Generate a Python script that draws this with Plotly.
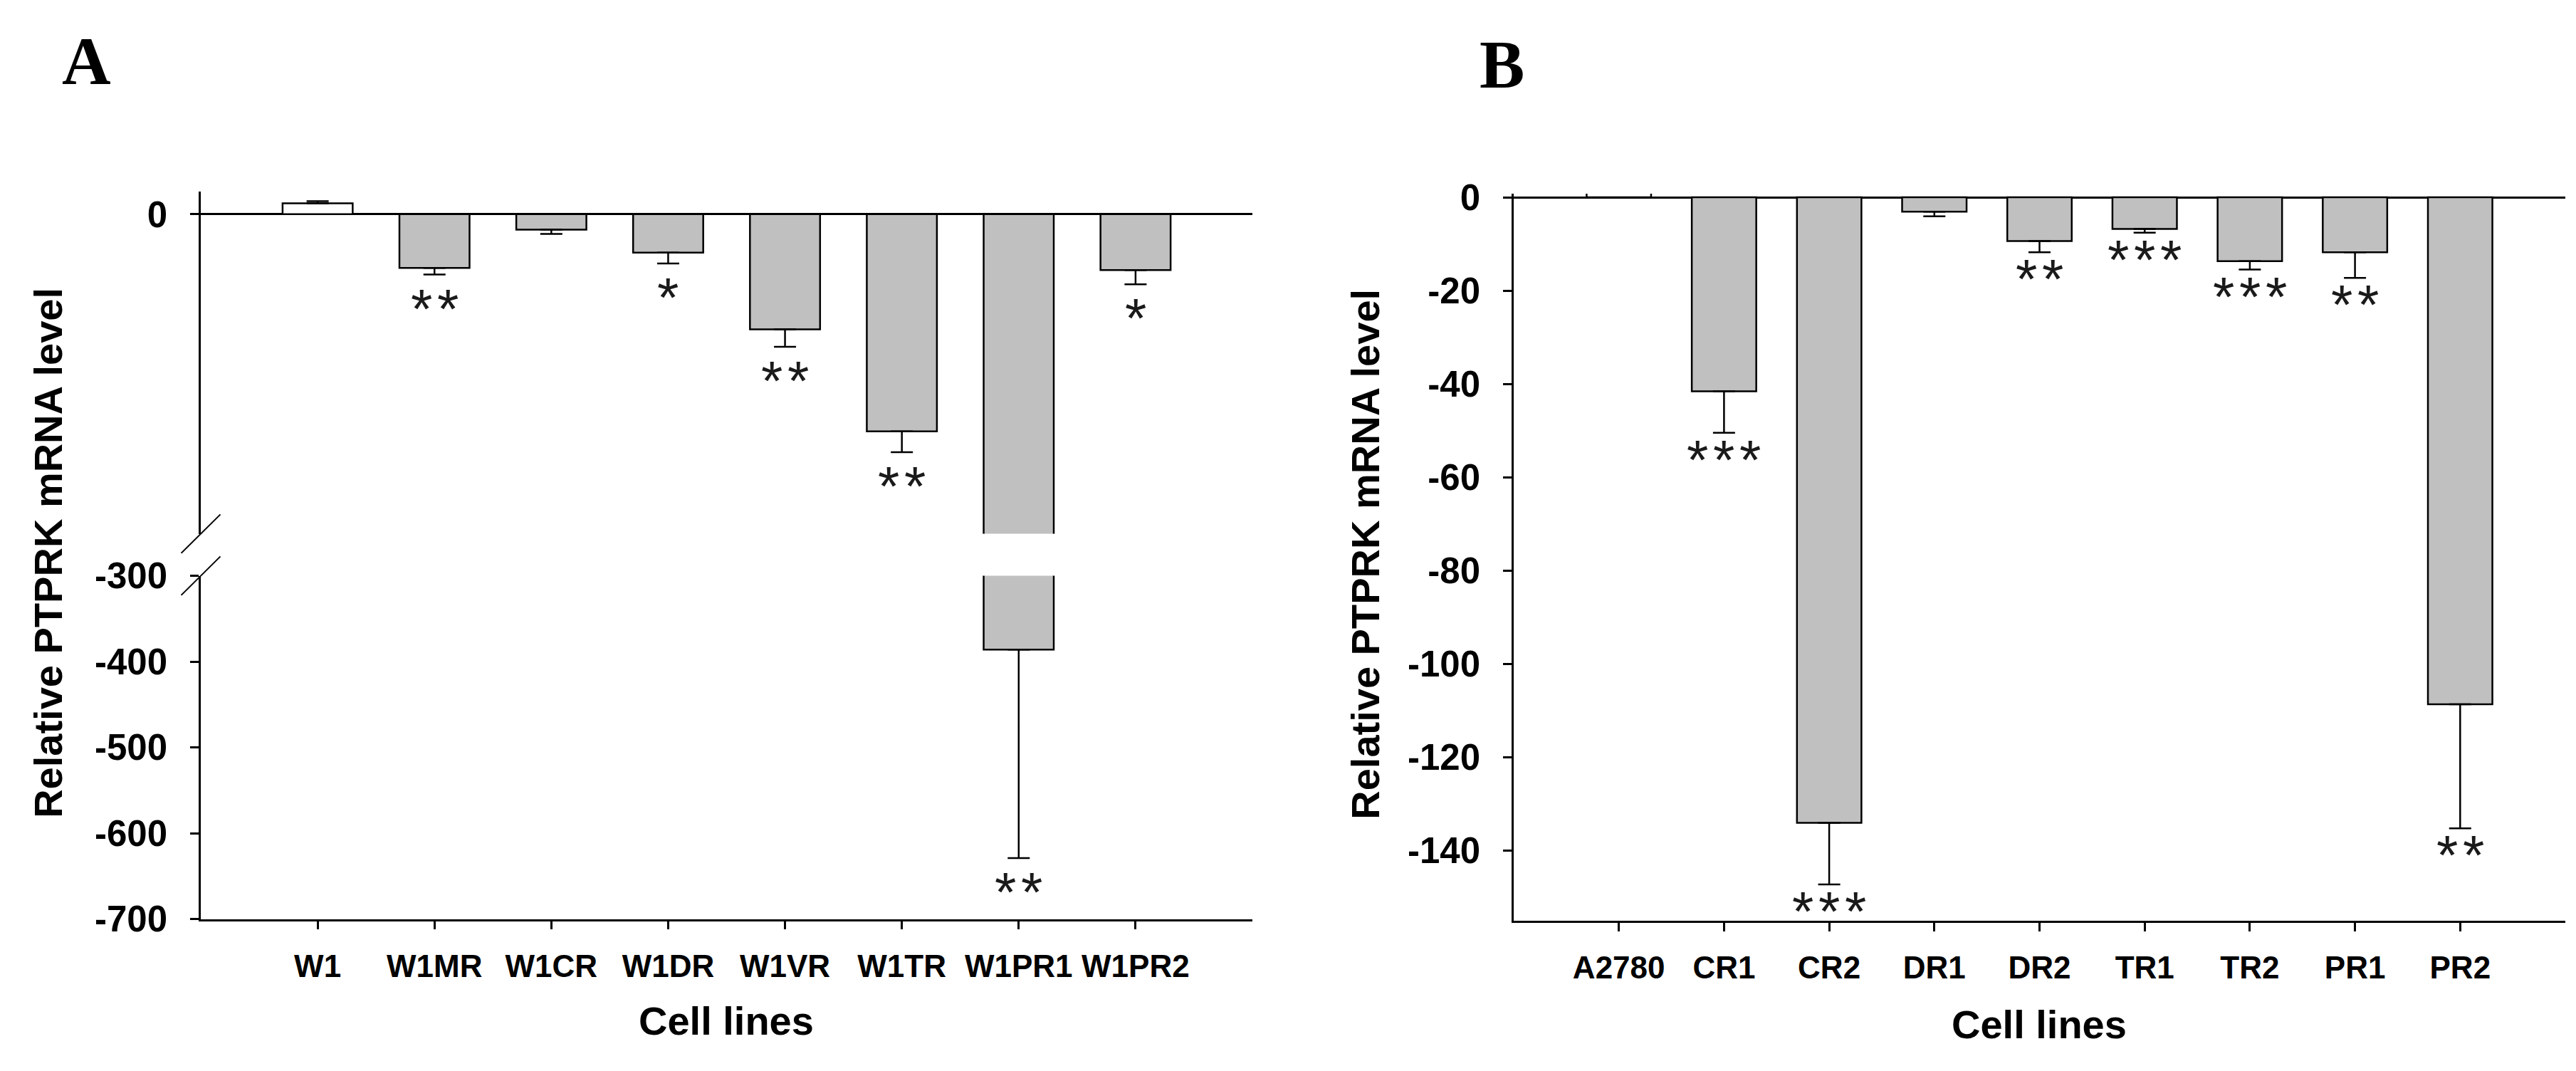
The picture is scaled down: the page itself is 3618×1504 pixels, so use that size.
import plotly.graph_objects as go

# ---------------- data ----------------
a_cats = ["W1", "W1MR", "W1CR", "W1DR", "W1VR", "W1TR", "W1PR1", "W1PR2"]
a_vals = [1.0, -4.9, -1.4, -3.5, -10.5, -19.8, -386.0, -5.1]
a_errs = [0.2, 0.6, 0.4, 1.0, 1.6, 1.9, 243.0, 1.3]
a_sig = ["", "**", "", "*", "**", "**", "**", "*"]

b_cats = ["A2780", "CR1", "CR2", "DR1", "DR2", "TR1", "TR2", "PR1", "PR2"]
b_vals = [1.0, -41.6, -134.1, -3.1, -9.4, -6.8, -13.7, -11.8, -108.7]
b_errs = [0.0, 8.9, 13.2, 1.0, 2.4, 0.8, 1.8, 5.5, 26.6]
b_sig = ["", "***", "***", "", "**", "***", "***", "**", "**"]

a_upper_ticks = [0]
a_lower_ticks = [-700, -600, -500, -400, -300]
b_ticks = [0, -20, -40, -60, -80, -100, -120, -140]

# ---------------- geometry / style ----------------
W, H = 3618, 1504


def px(x):
    return x / W


def py(y):
    return 1 - y / H


GRAY = "#c0c0c0"
LW = 2.5
FONT = "Liberation Sans"

A_L, A_R = 274, 1751
A_UP_TOP, A_UP_BOT = 242, 741.7
A_LO_TOP, A_LO_BOT = 803, 1304
A_UP_RANGE = [-29.15, 2.08]
A_LO_RANGE = [-700, -300]

B_L, B_R = 2118, 3595
B_TOP, B_BOT = 245.4, 1306.3
B_RANGE = [-155.06, 0.75]


def err_parts(vals, errs):
    plus = [e if v > 0 else 0 for v, e in zip(vals, errs)]
    minus = [e if v < 0 else 0 for v, e in zip(vals, errs)]
    return plus, minus


def fills(vals):
    return ["white" if v > 0 else GRAY for v in vals]


def bar(cats, vals, errs, xa, ya, width):
    plus, minus = err_parts(vals, errs)
    return go.Bar(
        x=cats, y=vals, xaxis=xa, yaxis=ya, width=width,
        marker=dict(color=fills(vals), line=dict(color="black", width=LW)),
        error_y=dict(type="data", symmetric=False, array=plus, arrayminus=minus,
                     color="black", thickness=LW, width=15.5),
        showlegend=False, hoverinfo="skip",
    )


def hyphen_labels(ticks):
    return [str(t) for t in ticks]


fig = go.Figure()
fig.add_trace(bar(a_cats, a_vals, a_errs, "x", "y", 0.6))
fig.add_trace(bar(a_cats, a_vals, a_errs, "x2", "y2", 0.6))
fig.add_trace(bar(b_cats, b_vals, b_errs, "x3", "y3", 0.613))

tickfont_y = dict(family=FONT, size=51, color="black", weight="bold")
tickfont_x = dict(family=FONT, size=44, color="black", weight="bold")

common_y = dict(showline=True, linecolor="black", linewidth=LW, ticks="outside",
                ticklen=12, tickwidth=LW, tickcolor="black", showgrid=False,
                tickfont=tickfont_y, ticklabelstandoff=22)
common_x = dict(type="category", showline=True, linecolor="black", linewidth=LW,
                ticks="outside", ticklen=12, tickwidth=LW, tickcolor="black",
                showgrid=False, tickfont=tickfont_x, ticklabelstandoff=14,
                zeroline=False)

fig.update_layout(
    width=W, height=H, autosize=False,
    margin=dict(l=0, r=0, t=0, b=0),
    paper_bgcolor="white", plot_bgcolor="white",
    bargap=0.4,
    xaxis=dict(domain=[px(A_L), px(A_R)], anchor="y", range=[-1, len(a_cats)],
               categoryarray=a_cats, categoryorder="array", type="category",
               visible=False),
    yaxis=dict(domain=[py(A_UP_BOT), py(A_UP_TOP)], anchor="x", range=A_UP_RANGE,
               tickvals=a_upper_ticks, ticktext=hyphen_labels(a_upper_ticks),
               zeroline=True, zerolinecolor="black", zerolinewidth=LW, **common_y),
    xaxis2=dict(domain=[px(A_L), px(A_R)], anchor="y2", range=[-1, len(a_cats)],
                categoryarray=a_cats, categoryorder="array", **common_x),
    yaxis2=dict(domain=[py(A_LO_BOT), py(A_LO_TOP)], anchor="x2", range=A_LO_RANGE,
                tickvals=a_lower_ticks, ticktext=hyphen_labels(a_lower_ticks),
                zeroline=False, **common_y),
    xaxis3=dict(domain=[px(B_L), px(B_R)], anchor="y3", range=[-1, len(b_cats)],
                categoryarray=b_cats, categoryorder="array", **common_x),
    yaxis3=dict(domain=[py(B_BOT), py(B_TOP)], anchor="x3", range=B_RANGE,
                tickvals=b_ticks, ticktext=hyphen_labels(b_ticks),
                zeroline=True, zerolinecolor="black", zerolinewidth=LW, **common_y),
)

annotations = []

# significance stars (one text per asterisk so their spacing can match)
STAR_FONT = dict(family=FONT, size=78, color="#1a1a1a")
STAR_STEP = 37


def star_annots(label, x, y, xref, yref, yshift):
    out = []
    n = len(label)
    for i, ch in enumerate(label):
        out.append(dict(x=x, y=y, xref=xref, yref=yref, text=ch, showarrow=False,
                        xanchor="center", yanchor="top",
                        xshift=(i - (n - 1) / 2) * STAR_STEP, yshift=yshift,
                        font=STAR_FONT))
    return out


for c, v, e, s in zip(a_cats, a_vals, a_errs, a_sig):
    if not s:
        continue
    end = v - e
    ya = "y" if end >= A_UP_RANGE[0] else "y2"
    xa = "x" if ya == "y" else "x2"
    annotations += star_annots(s, c, end, xa, ya, -2)
for c, v, e, s in zip(b_cats, b_vals, b_errs, b_sig):
    if not s:
        continue
    annotations += star_annots(s, c, v - e, "x3", "y3", 8)

TITLE_FONT = dict(family=FONT, size=56, color="black", weight="bold")
PANEL_FONT = dict(family="Liberation Serif", size=95, color="black", weight="bold")

annotations += [
    dict(x=px(60), y=py(770), xref="paper", yref="paper", text="Relative PTPRK mRNA level",
         textangle=-90, showarrow=False, font=TITLE_FONT, xanchor="center", yanchor="middle"),
    dict(x=px(1910), y=py(772), xref="paper", yref="paper", text="Relative PTPRK mRNA level",
         textangle=-90, showarrow=False, font=TITLE_FONT, xanchor="center", yanchor="middle"),
    dict(x=px(1012), y=py(1453), xref="paper", yref="paper", text="Cell lines",
         showarrow=False, font=TITLE_FONT, xanchor="center", yanchor="middle"),
    dict(x=px(2856), y=py(1458), xref="paper", yref="paper", text="Cell lines",
         showarrow=False, font=TITLE_FONT, xanchor="center", yanchor="middle"),
    dict(x=px(113), y=py(52), xref="paper", yref="paper", text="A",
         showarrow=False, font=PANEL_FONT, xanchor="center", yanchor="middle"),
    dict(x=px(2101), y=py(57), xref="paper", yref="paper", text="B",
         showarrow=False, font=PANEL_FONT, xanchor="center", yanchor="middle"),
]
fig.update_layout(annotations=annotations)

# axis-break marks on panel A's y axis
DX, DY = 27.5, 28.3
shapes = []
for yb in (A_UP_BOT, A_LO_TOP):
    shapes.append(dict(type="line", xref="paper", yref="paper",
                       x0=px(A_L - DX), y0=py(yb + DY), x1=px(A_L + DX), y1=py(yb - DY),
                       line=dict(color="black", width=2)))
fig.update_layout(shapes=shapes)

fig.write_html("out.html")
